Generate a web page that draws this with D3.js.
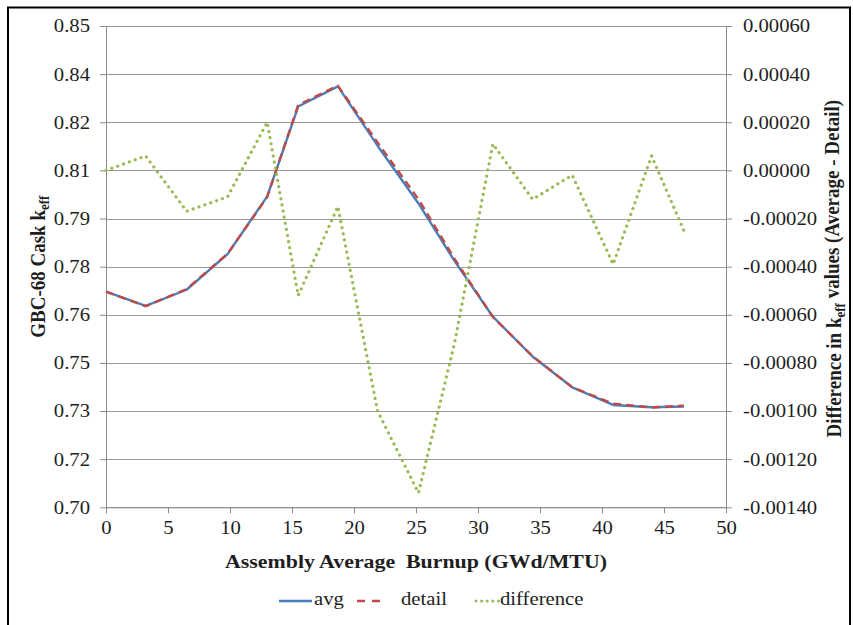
<!DOCTYPE html>
<html>
<head>
<meta charset="utf-8">
<script src="https://cdn.jsdelivr.net/npm/d3@7"></script>
<style>
  html, body { margin: 0; padding: 0; background: #fff; }
  svg { display: block; }
  text { font-family: "Liberation Serif", "Times New Roman", serif; fill: #1e1e1e; }
</style>
</head>
<body>
<svg id="chart" width="853" height="625"></svg>
<script>
// Assembly average burnup (GWd/MTU) at each depletion step
const burnup = [0, 3.2, 6.5, 9.8, 13.0, 15.5, 18.7, 21.9, 25.2, 28.1, 31.2, 34.4, 37.6, 40.9, 44.0, 46.6];

// Cask k-eff with axially averaged burnup profile
const avg = [0.7672, 0.7628, 0.7678, 0.7789, 0.7969, 0.8249, 0.8312, 0.8127, 0.7947, 0.7768,
             0.7594, 0.7470, 0.7374, 0.7319, 0.7312, 0.7314];

// Cask k-eff with detailed burnup profile
const detail = [0.7672, 0.7627, 0.7680, 0.7790, 0.7967, 0.8254, 0.8314, 0.8137, 0.7960, 0.7775,
                0.7593, 0.7471, 0.7374, 0.7323, 0.7311, 0.7317];

// Average - Detail
const difference = [0.00000, 0.00006, -0.00017, -0.00011, 0.00020, -0.00052, -0.00015, -0.00100,
                    -0.00134, -0.00072, 0.00011, -0.00012, -0.00002, -0.00039, 0.00006, -0.00025];

// Axis ticks and their printed labels
const xTicks = [0, 5, 10, 15, 20, 25, 30, 35, 40, 45, 50];
const leftTicks = [0.700, 0.715, 0.730, 0.745, 0.760, 0.775, 0.790, 0.805, 0.820, 0.835, 0.850];
const leftTickLabels = ["0.70", "0.72", "0.73", "0.75", "0.76", "0.78", "0.79", "0.81", "0.82", "0.84", "0.85"];
const rightTicks = [-0.0014, -0.0012, -0.0010, -0.0008, -0.0006, -0.0004, -0.0002, 0, 0.0002, 0.0004, 0.0006];
const rightTickLabels = ["-0.00140", "-0.00120", "-0.00100", "-0.00080", "-0.00060", "-0.00040",
                         "-0.00020", "0.00000", "0.00020", "0.00040", "0.00060"];

const seriesNames = ["avg", "detail", "difference"];
const colors = { avg: "#4a7ebb", detail: "#be4b48", difference: "#98b954" };

// horizontal stretch applied to every label
const SX = 1.15;

const svg = d3.select("#chart");
const plot = { left: 106, right: 726, top: 26, bottom: 507.3 };

const x = d3.scaleLinear().domain([0, 50]).range([plot.left, plot.right]);
const yL = d3.scaleLinear().domain([0.70, 0.85]).range([plot.bottom, plot.top]);
const yR = d3.scaleLinear().domain([-0.0014, 0.0006]).range([plot.bottom, plot.top]);

// outer frame
svg.append("rect")
  .attr("x", 8).attr("y", 7.5).attr("width", 842).attr("height", 660)
  .attr("fill", "none").attr("stroke", "#000").attr("stroke-width", 2);

// horizontal gridlines
svg.append("g").selectAll("line").data(leftTicks).join("line")
  .attr("x1", plot.left).attr("x2", plot.right)
  .attr("y1", d => Math.round(yL(d)) + 0.5).attr("y2", d => Math.round(yL(d)) + 0.5)
  .attr("stroke", "#9a9a9a").attr("stroke-width", 1);

function styleAxis(g) {
  g.attr("font-family", null).attr("font-size", null);
  g.selectAll("path.domain").attr("stroke", "#8a8a8a").attr("stroke-width", 1);
  g.selectAll(".tick line").attr("stroke", "#8a8a8a").attr("stroke-width", 1);
  g.selectAll("text").style("font-size", "18px").attr("fill", "#1e1e1e");
}

// left axis
const gL = svg.append("g").attr("transform", `translate(${plot.left},0)`)
  .call(d3.axisLeft(yL).tickValues(leftTicks).tickSize(6).tickSizeOuter(0)
    .tickFormat((d, i) => leftTickLabels[i]));
styleAxis(gL);
gL.selectAll("text").attr("x", 0).attr("dy", "0.33em")
  .attr("transform", `translate(-16,0) scale(${SX},1)`);

// right axis
const gR = svg.append("g").attr("transform", `translate(${plot.right},0)`)
  .call(d3.axisRight(yR).tickValues(rightTicks).tickSize(6).tickSizeOuter(0)
    .tickFormat((d, i) => rightTickLabels[i]));
styleAxis(gR);
gR.selectAll("text").attr("x", 0).attr("dy", "0.33em")
  .attr("transform", `translate(17,0) scale(${SX},1)`);

// bottom axis
const gB = svg.append("g").attr("transform", `translate(0,${plot.bottom})`)
  .call(d3.axisBottom(x).tickValues(xTicks).tickSize(6).tickSizeOuter(0).tickFormat(d3.format("d")));
styleAxis(gB);
gB.selectAll("text").attr("y", 0).attr("dy", null)
  .attr("transform", `translate(0,27) scale(${SX},1)`);

// series lines
const lineL = d3.line().x((d, i) => x(burnup[i])).y(d => yL(d));
const lineR = d3.line().x((d, i) => x(burnup[i])).y(d => yR(d));

svg.append("path").datum(avg)
  .attr("d", lineL).attr("fill", "none")
  .attr("stroke", colors.avg).attr("stroke-width", 2.4).attr("stroke-linejoin", "round");

svg.append("path").datum(detail)
  .attr("d", lineL).attr("fill", "none")
  .attr("stroke", colors.detail).attr("stroke-width", 2.4)
  .attr("stroke-dasharray", "8,5");

svg.append("path").datum(difference)
  .attr("d", lineR).attr("fill", "none")
  .attr("stroke", colors.difference).attr("stroke-width", 3.2)
  .attr("stroke-linecap", "round").attr("stroke-dasharray", "0.01,6.2");

// axis titles
svg.append("text")
  .attr("transform", `translate(${(plot.left + plot.right) / 2},568) scale(${SX},1)`)
  .attr("text-anchor", "middle").attr("font-weight", "bold").style("font-size", "19px")
  .attr("xml:space", "preserve")
  .text("Assembly Average  Burnup (GWd/MTU)");

const tl = svg.append("text")
  .attr("transform", `translate(45,${(plot.top + plot.bottom) / 2}) scale(${SX},1) rotate(-90)`)
  .attr("text-anchor", "middle").attr("font-weight", "bold").style("font-size", "19px");
tl.append("tspan").text("GBC-68 Cask k");
tl.append("tspan").attr("dy", "0.3em").style("font-size", "13px").text("eff");

const tr = svg.append("text")
  .attr("transform", `translate(841,${(plot.top + plot.bottom) / 2 + 2}) scale(${SX},1) rotate(-90)`)
  .attr("text-anchor", "middle").attr("font-weight", "bold").style("font-size", "19px");
tr.append("tspan").text("Difference in k");
tr.append("tspan").attr("dy", "0.3em").style("font-size", "13px").text("eff");
tr.append("tspan").attr("dy", "-0.3em").text(" values (Average - Detail)");

// legend
const legend = svg.append("g");
const legendItems = [
  { key: "avg", x1: 279, x2: 312, tx: 314, dash: null, width: 2.4, cap: "butt" },
  { key: "detail", x1: 357, x2: 380, tx: 401, dash: "8,7", width: 2.4, cap: "butt" },
  { key: "difference", x1: 476, x2: 500, tx: 500, dash: "0.01,5.6", width: 3, cap: "round" }
];
legendItems.forEach(it => {
  legend.append("line")
    .attr("x1", it.x1).attr("x2", it.x2).attr("y1", 601).attr("y2", 601)
    .attr("stroke", colors[it.key]).attr("stroke-width", it.width)
    .attr("stroke-dasharray", it.dash).attr("stroke-linecap", it.cap);
  legend.append("text")
    .attr("transform", `translate(${it.tx},605) scale(${SX},1)`)
    .style("font-size", "18px").text(it.key);
});
</script>
</body>
</html>
